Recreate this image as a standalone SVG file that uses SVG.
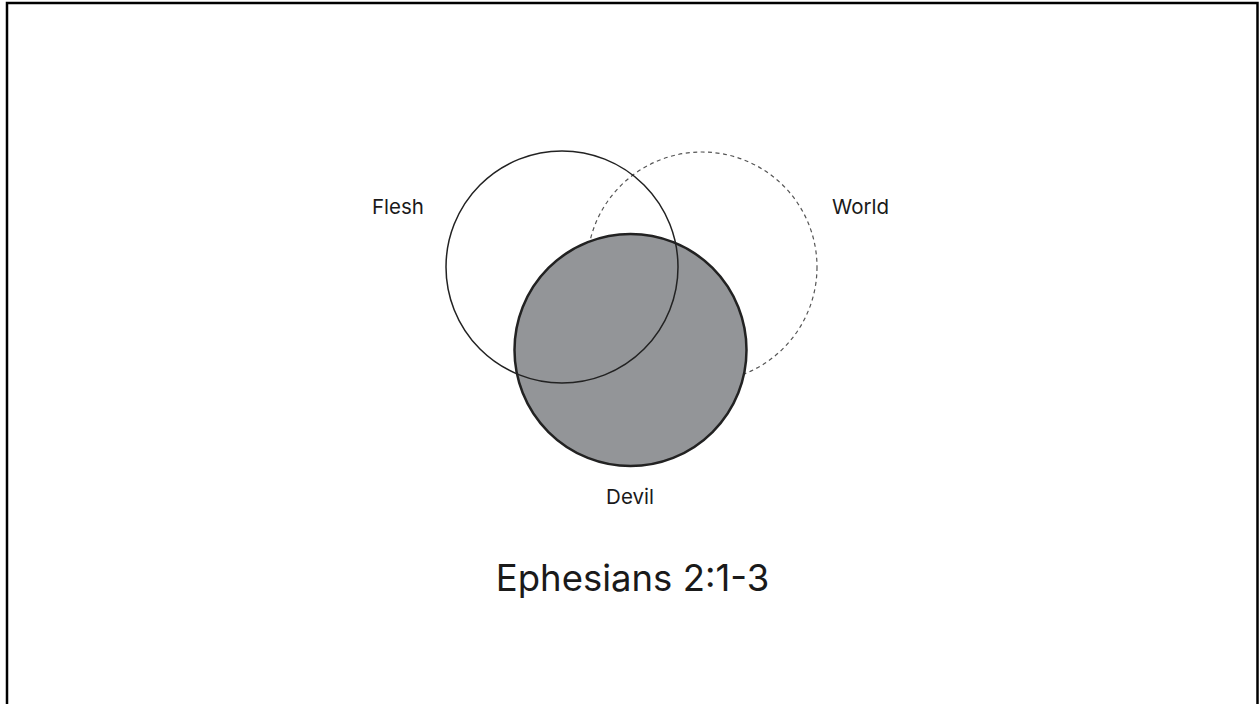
<svg xmlns="http://www.w3.org/2000/svg" width="1260" height="704" viewBox="0 0 1260 704">
<style>
.lbl{font-family:Inter,"Liberation Sans",sans-serif;font-size:20.5px;fill:#1a1a1a}
.title{font-family:Inter,"Liberation Sans",sans-serif;font-size:36.5px;fill:#1a1a1a}
</style>
<rect x="0" y="0" width="1260" height="704" fill="#ffffff"/>
<rect x="7" y="3" width="1250.5" height="720" fill="none" stroke="#000" stroke-width="2.5"/>
<g id="world"><circle cx="702" cy="267" r="115" fill="none" stroke="#555" stroke-width="1.2" stroke-dasharray="4,3.5"/></g>
<g id="devil"><circle cx="630.5" cy="350" r="116" fill="#939598" stroke="#222" stroke-width="2.5"/></g>
<g id="flesh"><circle cx="562" cy="267" r="116" fill="none" stroke="#222" stroke-width="1.5"/></g>
<g id="labels">
<text class="lbl" x="398" y="214" text-anchor="middle">Flesh</text>
<text class="lbl" x="860.5" y="214" text-anchor="middle">World</text>
<text class="lbl" x="630" y="504" text-anchor="middle">Devil</text>
<text class="title" x="632.5" y="591" text-anchor="middle">Ephesians 2:1-3</text>
</g>
<g id="connectors"/>
</svg>
